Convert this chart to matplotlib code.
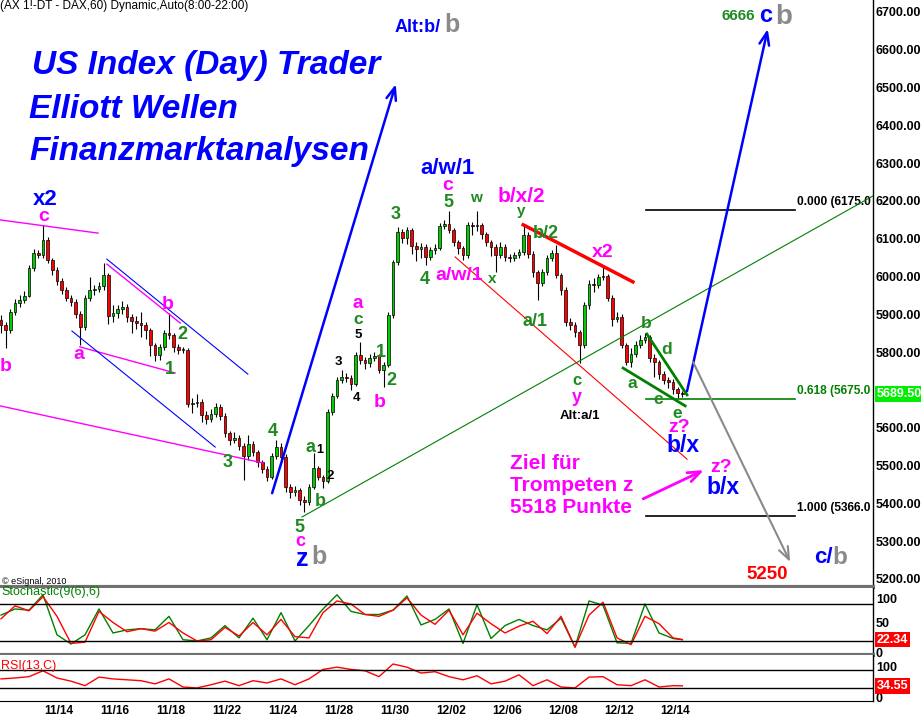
import numpy as np
import matplotlib.pyplot as plt
from matplotlib.transforms import blended_transform_factory

plt.rcParams['font.family'] = ['Liberation Sans', 'DejaVu Sans']

# DAX future, 6 bars per trading day, 11/10 - 12/14
first_open = 5885
closes = [5872, 5859, 5906, 5930, 5938, 5949, 6023, 6062, 6057, 6097,
          6044, 6017, 5988, 5965, 5943, 5933, 5901, 5867, 5943, 5965,
          5967, 5975, 6004, 5896, 5904, 5914, 5920, 5893, 5883, 5877,
          5872, 5859, 5819, 5792, 5814, 5851, 5845, 5814, 5806, 5806,
          5663, 5666, 5668, 5634, 5623, 5637, 5655, 5631, 5586, 5568,
          5573, 5552, 5525, 5557, 5536, 5509, 5491, 5470, 5525, 5549,
          5523, 5443, 5430, 5435, 5409, 5404, 5443, 5494, 5470, 5459,
          5642, 5684, 5726, 5734, 5732, 5716, 5792, 5779, 5771, 5785,
          5790, 5753, 5766, 5898, 6039, 6118, 6102, 6123, 6081, 6073,
          6078, 6052, 6070, 6076, 6134, 6139, 6123, 6091, 6076, 6057,
          6137, 6134, 6136, 6113, 6091, 6078, 6057, 6078, 6052, 6049,
          6057, 6065, 6110, 6060, 6012, 5983, 6012, 6049, 6062, 6004,
          5965, 5880, 5872, 5853, 5819, 5925, 5980, 5978, 5999, 6001,
          5943, 5888, 5893, 5819, 5774, 5795, 5819, 5832, 5840, 5785,
          5774, 5742, 5726, 5721, 5702, 5692, 5689.5]
highs = [5898, 5880, 5915, 5940, 5950, 5962, 6030, 6072, 6070, 6136,
         6105, 6050, 6025, 5995, 5972, 5950, 5940, 5908, 5950, 6000,
         5978, 5985, 6036, 6010, 5925, 5925, 5935, 5928, 5900, 5895,
         5905, 5880, 5865, 5825, 5822, 5860, 5904, 5852, 5822, 5815,
         5812, 5680, 5690, 5675, 5645, 5650, 5665, 5662, 5638, 5592,
         5590, 5580, 5560, 5580, 5565, 5542, 5515, 5498, 5532, 5568,
         5560, 5530, 5450, 5445, 5442, 5420, 5450, 5533, 5500, 5475,
         5650, 5692, 5735, 5753, 5745, 5740, 5800, 5827, 5788, 5795,
         5800, 5795, 5775, 5905, 6045, 6131, 6125, 6130, 6128, 6092,
         6090, 6085, 6078, 6085, 6142, 6150, 6173, 6128, 6098, 6082,
         6145, 6145, 6173, 6142, 6118, 6098, 6085, 6092, 6085, 6060,
         6065, 6072, 6136, 6118, 6068, 6018, 6020, 6058, 6070, 6083,
         6010, 5972, 5890, 5880, 5858, 5932, 5990, 5995, 6008, 6025,
         6008, 5950, 5905, 5900, 5825, 5812, 5830, 5845, 5851, 5845,
         5795, 5780, 5750, 5735, 5728, 5708, 5698]
lows = [5850, 5812, 5850, 5898, 5920, 5930, 5945, 6015, 6048, 6050,
        6035, 6005, 5978, 5955, 5935, 5922, 5890, 5819, 5860, 5935,
        5950, 5958, 5965, 5875, 5880, 5890, 5900, 5880, 5850, 5862,
        5840, 5835, 5790, 5777, 5780, 5805, 5835, 5800, 5795, 5798,
        5655, 5640, 5655, 5615, 5610, 5615, 5628, 5620, 5575, 5555,
        5560, 5540, 5462, 5515, 5525, 5495, 5480, 5460, 5465, 5518,
        5510, 5430, 5415, 5420, 5395, 5377, 5395, 5438, 5462, 5440,
        5455, 5635, 5678, 5718, 5720, 5700, 5710, 5770, 5755, 5762,
        5778, 5745, 5708, 5760, 5890, 6030, 6088, 6085, 6060, 6040,
        6050, 6031, 6045, 6060, 6070, 6125, 6115, 6082, 6060, 6045,
        6050, 6110, 6120, 6100, 6080, 6055, 6012, 6048, 6040, 6038,
        6042, 6050, 6058, 6050, 6000, 5938, 5975, 6005, 6040, 5995,
        5950, 5870, 5860, 5840, 5771, 5812, 5915, 5960, 5970, 5990,
        5935, 5870, 5880, 5810, 5765, 5760, 5788, 5812, 5825, 5775,
        5735, 5730, 5715, 5705, 5690, 5680, 5682]

# oscillators, read every 3rd bar
osc_bars = list(range(0, 145, 3)) + [146]
stoch_k = [62, 72, 70, 95, 30, 15, 30, 72, 33, 38, 40, 38, 60, 22, 20, 25, 45,
           25, 57, 22, 66, 20, 45, 72, 95, 68, 63, 63, 70, 93, 46, 55, 72,
           16, 79, 24, 45, 55, 45, 38, 57, 10, 85, 78, 17, 16, 80, 33, 24, 22]
stoch_d = [56, 77, 69, 92, 60, 16, 18, 68, 50, 35, 40, 36, 50, 33, 20, 22, 42,
           28, 50, 30, 55, 27, 25, 66, 85, 80, 63, 60, 70, 90, 62, 47, 70,
           30, 65, 48, 33, 44, 52, 32, 60, 10, 62, 83, 25, 14, 60, 48, 25, 22.34]
rsi = [50, 52, 55, 68, 52, 45, 35, 54, 50, 48, 46, 39, 50, 32, 30, 37, 45,
       35, 46, 41, 50, 37, 50, 71, 76, 71, 68, 55, 83, 76, 63, 66, 55,
       48, 57, 39, 45, 59, 35, 48, 32, 30, 54, 55, 37, 35, 48, 32, 35, 34.55]

date_labels = ['11/14', '11/16', '11/18', '11/22', '11/24', '11/28',
               '11/30', '12/02', '12/06', '12/08', '12/12', '12/14']
date_pos = [12.4 + 12 * k for k in range(len(date_labels))]
# 5700 sits under the last-price tag
price_ticks = [p for p in range(5200, 6800, 100) if p != 5700]

GREEN = '#1f8a1f'
MAG = '#ff00ff'
BLUE = '#0000ff'
GRAY = '#8a8a8a'
RED = '#ff0000'

# wave labels: bar, price, text, colour, size
wave_labels = [
    (9.4, 6205, 'x2', BLUE, 16), (9.2, 6158, 'c', MAG, 14),
    (1.1, 5763, 'b', MAG, 14), (16.7, 5793, 'a', MAG, 14),
    (35.8, 5925, 'b', MAG, 14), (38.8, 5848, '2', GREEN, 13),
    (36.2, 5753, '1', GREEN, 13), (48.6, 5509, '3', GREEN, 13),
    (58.3, 5589, '4', GREEN, 13), (66.4, 5549, 'a', GREEN, 13),
    (68.4, 5540, '1', 'black', 9), (70.5, 5472, '2', 'black', 9.5),
    (68.4, 5404, 'b', GREEN, 13), (63.9, 5337, '5', GREEN, 13),
    (64.1, 5300, 'c', MAG, 13), (64.5, 5254, 'z', BLUE, 18),
    (68.1, 5258, 'b', GRAY, 18),
    (76.5, 5928, 'a', MAG, 13.5), (76.5, 5886, 'c', GREEN, 12.5),
    (76.5, 5845, '5', 'black', 9.5), (72.4, 5774, '3', 'black', 9.5),
    (76.1, 5679, '4', 'black', 9.5), (81.4, 5800, '1', GREEN, 13),
    (83.6, 5724, '2', GREEN, 13), (81.2, 5666, 'b', MAG, 14),
    (84.6, 6163, '3', GREEN, 13), (90.9, 5991, '4', GREEN, 13),
    (95.8, 6197, '5', GREEN, 13), (95.8, 6240, 'c', MAG, 14),
    (95.6, 6287, 'a/w/1', BLUE, 16), (98.1, 6004, 'a/w/1', MAG, 14),
    (101.8, 6208, 'w', GREEN, 11), (105.2, 5994, 'x', GREEN, 11),
    (111.6, 6213, 'b/x/2', MAG, 15), (111.4, 6174, 'y', GREEN, 11),
    (116.8, 6115, 'b/2', GREEN, 13), (129.0, 6065, 'x2', MAG, 14),
    (114.4, 5882, 'a/1', GREEN, 13), (123.4, 5724, 'c', GREEN, 12),
    (123.4, 5679, 'y', MAG, 13), (138.2, 5877, 'b', GREEN, 12.5),
    (142.7, 5808, 'd', GREEN, 12.5), (135.2, 5718, 'a', GREEN, 12.5),
    (140.8, 5676, 'c', GREEN, 12.5), (144.8, 5639, 'e', GREEN, 12.5),
    (124.1, 5631, 'Alt:a/1', 'black', 9.5),
    (145.3, 5600, 'z?', MAG, 14), (146.1, 5552, 'b/x', BLUE, 16.5),
    (154.3, 5494, 'z?', MAG, 14), (154.7, 5443, 'b/x', BLUE, 16.5),
    (164.1, 5211, '5250', RED, 13.5), (157.9, 6690, '6666', GREEN, 11),
    (163.9, 6692, 'c', BLUE, 17), (167.8, 6687, 'b', GRAY, 20),
]

# drawn trend lines: (bar0, price0, bar1, price1, colour, width)
trend_lines = [
    (-0.2, 6150, 20.8, 6115, MAG, 1.0),
    (-0.2, 5658, 56.1, 5507, MAG, 1.0),
    (16.9, 5814, 37.3, 5745, MAG, 1.0),
    (22.7, 6033, 38.4, 5877, MAG, 1.0),
    (22.7, 6046, 52.9, 5742, BLUE, 0.8),
    (15.2, 5856, 45.9, 5549, BLUE, 0.8),
    (64.5, 5364, 186.8, 6213, '#008000', 0.8),
    (97.3, 6052, 147.0, 5517, RED, 0.8),
    (111.9, 6137, 135.4, 5986, RED, 2.5),
    (138.4, 5848, 147.0, 5687, '#008000', 2.0),
    (133.3, 5758, 146.6, 5658, '#008000', 2.0),
]

# arrows: start bar, price, tip bar, price, colour, width
arrows = [
    (58.1, 5427, 84.6, 6509, BLUE, 1.8),
    (147.0, 5697, 164.3, 6655, BLUE, 1.8),
    (148.3, 5774, 169.1, 5245, GRAY, 1.5),
    (137.6, 5412, 150.6, 5488, MAG, 2.0),
]

# fibonacci levels; the labels are cut at the price scale as in the original
fib_levels = [6175, 5675, 5366]
fib_texts = ['0.000 (6175.0', '0.618 (5675.0', '1.000 (5366.0']
fib_colors = ['black', '#008000', 'black']

fig = plt.figure(figsize=(9.21, 7.18), dpi=100)
ax = fig.add_axes([0, 0.18245, 0.94788, 0.81755])
ax_st = fig.add_axes([0, 0.08774, 0.94788, 0.09331])
ax_rsi = fig.add_axes([0, 0.02368, 0.94788, 0.06407])

xlim = (-0.214, 186.85)
for a in (ax, ax_st, ax_rsi):
    a.set_xlim(*xlim)
    a.set_facecolor('white')
    for s in ('top', 'left', 'bottom'):
        a.spines[s].set_visible(False)
    a.spines['right'].set_color('black')
    a.spines['right'].set_linewidth(1)
    a.yaxis.tick_right()
    a.tick_params(axis='y', length=0, pad=2, labelsize=9)
    a.tick_params(axis='x', length=0)
    a.set_xticks([])

# candles
x = np.arange(len(closes))
opens = np.array([first_open] + closes[:-1])
c = np.array(closes)
body_lo = np.minimum(opens, c)
body_h = np.maximum(np.abs(c - opens), 1.5)
colors = np.where(c >= opens, '#00cc00', '#ff0000')
ax.vlines(x, lows, highs, color='black', lw=0.8, zorder=2)
ax.bar(x, body_h, bottom=body_lo, width=0.62, color=colors,
       edgecolor='black', linewidth=0.5, zorder=3)

ax.set_ylim(5178.8, 6731.7)
ax.set_yticks(price_ticks)
ax.set_yticklabels([f'{p:.2f}' for p in price_ticks], fontweight='bold')
ax.spines['bottom'].set_visible(True)
ax.spines['bottom'].set_color('#707070')
ax.spines['bottom'].set_linewidth(3)

for x0, y0, x1, y1, col, lw in trend_lines:
    ax.plot([x0, x1], [y0, y1], color=col, lw=lw, zorder=4)

for x0, y0, x1, y1, col, lw in arrows:
    ax.annotate('', xy=(x1, y1), xytext=(x0, y0),
                arrowprops=dict(arrowstyle='->,head_length=0.9,head_width=0.35',
                                color=col, lw=lw, shrinkA=0, shrinkB=0), zorder=5)

for lvl, txt, col in zip(fib_levels, fib_texts, fib_colors):
    ax.plot([138.2, 170.1], [lvl, lvl], color=col, lw=1.2, zorder=4)
    ax.text(170.6, lvl + 21, txt, color=col, fontsize=8.6,
            fontweight='bold', va='center', ha='left', clip_on=True)

for bx, py, txt, col, size in wave_labels:
    ax.text(bx, py, txt, color=col, fontsize=size, fontweight='bold',
            ha='center', va='center', zorder=6)

# composite labels
ax.text(94.3, 6660, 'Alt:b/', color=BLUE, fontsize=13, fontweight='bold',
        ha='right', va='center')
ax.text(94.9, 6666, 'b', color=GRAY, fontsize=18, fontweight='bold',
        ha='left', va='center')
ax.text(178.1, 5258, 'c/', color=BLUE, fontsize=16, fontweight='bold',
        ha='right', va='center')
ax.text(178.1, 5258, 'b', color=GRAY, fontsize=17.5, fontweight='bold',
        ha='left', va='center')
ax.text(109.1, 5530, 'Ziel für\nTrompeten z\n5518 Punkte', color=MAG,
        fontsize=15, fontweight='bold', ha='left', va='top',
        linespacing=1.2)

# headline
for bx, py, txt in [(6.6, 6536, 'US Index (Day) Trader'),
                    (6.0, 6420, 'Elliott Wellen'),
                    (6.0, 6308, 'Finanzmarktanalysen')]:
    ax.text(bx, py, txt, color=BLUE, fontsize=24, fontweight='bold',
            fontstyle='italic', ha='left', va='baseline')

# last price tag
tr = blended_transform_factory(ax.transAxes, ax.transData)
ax.text(1.004, closes[-1], f'{closes[-1]:.2f}', transform=tr, color='white',
        fontsize=9, fontweight='bold', va='center', ha='left', clip_on=False,
        bbox=dict(boxstyle='square,pad=0.15', fc='#00ee00', ec='none'))

# stochastic
ax_st.plot(osc_bars, stoch_k, color='#008000', lw=1)
ax_st.plot(osc_bars, stoch_d, color=RED, lw=1)
ax_st.axhline(80, color='black', lw=1)
ax_st.axhline(20, color='black', lw=1)
ax_st.set_ylim(-2.8, 106)
ax_st.set_yticks([89, 50, 2])
ax_st.set_yticklabels(['100', '50', '0'], fontweight='bold')
ax_st.spines['bottom'].set_visible(True)
ax_st.spines['bottom'].set_color('#707070')
ax_st.spines['bottom'].set_linewidth(3)
tr = blended_transform_factory(ax_st.transAxes, ax_st.transData)
ax_st.text(1.004, stoch_d[-1], f'{stoch_d[-1]:.2f}', transform=tr, color='white',
           fontsize=9, fontweight='bold', va='center', ha='left', clip_on=False,
           zorder=10,
           bbox=dict(boxstyle='square,pad=0.15', fc=RED, ec='none'))
ax_st.text(0.0, 99, 'Stochastic(9(6),6)', color='#008000', fontsize=9,
           ha='left', va='center')

# RSI
ax_rsi.plot(osc_bars, rsi, color=RED, lw=1)
ax_rsi.axhline(70, color='black', lw=1)
ax_rsi.axhline(30, color='black', lw=1)
ax_rsi.set_ylim(1, 103)
ax_rsi.set_yticks([78, 8])
ax_rsi.set_yticklabels(['100', '0'], fontweight='bold')
ax_rsi.spines['bottom'].set_visible(True)
ax_rsi.spines['bottom'].set_color('black')
ax_rsi.set_xticks(date_pos)
ax_rsi.set_xticklabels(date_labels, fontweight='bold', fontsize=8.6)
ax_rsi.tick_params(axis='x', length=0, pad=3)
tr = blended_transform_factory(ax_rsi.transAxes, ax_rsi.transData)
ax_rsi.text(1.004, rsi[-1], f'{rsi[-1]:.2f}', transform=tr, color='white',
            fontsize=9, fontweight='bold', va='center', ha='left', clip_on=False,
            zorder=10,
            bbox=dict(boxstyle='square,pad=0.15', fc=RED, ec='none'))
ax_rsi.text(0.0, 78, 'RSI(13,C)', color=RED, fontsize=9, ha='left', va='center')

fig.text(0.0, 1 - 9 / 718, '(AX 1!-DT - DAX,60) Dynamic,Auto(8:00-22:00)',
         fontsize=8.5, ha='left', va='baseline')
fig.text(2 / 921, 1 - 581 / 718, '\u00a9 eSignal, 2010', fontsize=6.5,
         ha='left', va='center')

fig.savefig('out.png', dpi=100)
